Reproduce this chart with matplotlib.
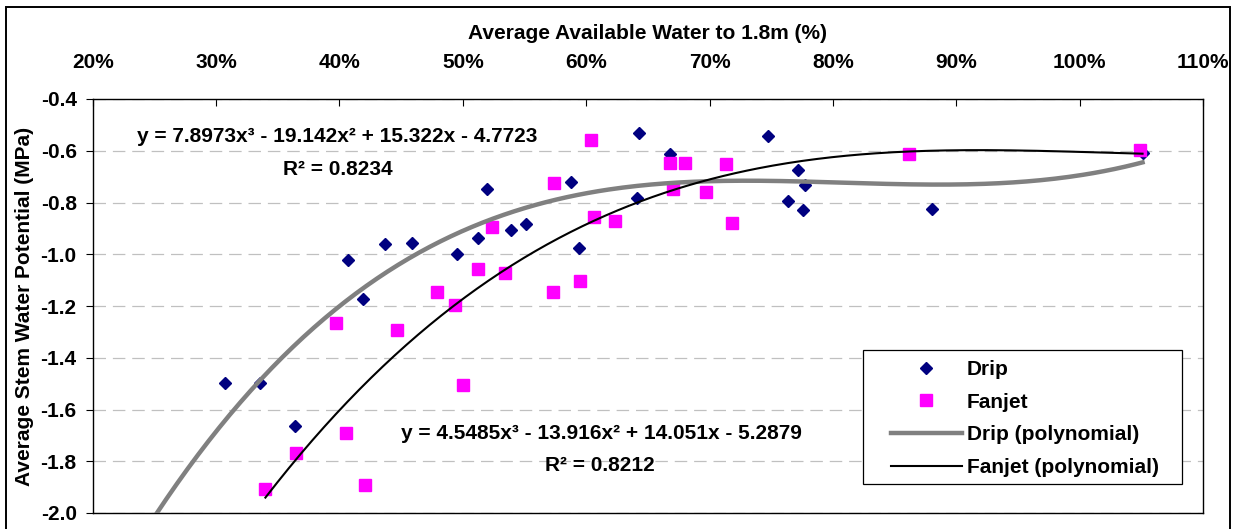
import numpy as np
import matplotlib.pyplot as plt
from matplotlib.ticker import PercentFormatter, MultipleLocator
from matplotlib.patches import Rectangle

plt.rcParams['font.family'] = ['Liberation Sans', 'DejaVu Sans']
plt.rcParams['font.weight'] = 'bold'

# average available water to 1.8m (fraction) and stem water potential (MPa)
drip_x = [0.3075, 0.336, 0.364, 0.407, 0.419, 0.437, 0.459, 0.495, 0.512,
          0.520, 0.539, 0.551, 0.588, 0.594, 0.641, 0.643, 0.668, 0.747,
          0.764, 0.7715, 0.776, 0.777, 0.880, 1.051]
drip_y = [-1.497, -1.497, -1.665, -1.022, -1.172, -0.962, -0.958, -1.000, -0.938,
          -0.749, -0.906, -0.884, -0.722, -0.977, -0.781, -0.533, -0.612, -0.543,
          -0.794, -0.673, -0.828, -0.733, -0.824, -0.610]

fanjet_x = [0.340, 0.365, 0.397, 0.405, 0.4205, 0.4465, 0.479, 0.494, 0.5005,
            0.512, 0.524, 0.5345, 0.573, 0.574, 0.595, 0.604, 0.606, 0.6235,
            0.668, 0.670, 0.680, 0.697, 0.7135, 0.718, 0.862, 1.049]
fanjet_y = [-1.906, -1.768, -1.265, -1.689, -1.892, -1.293, -1.146, -1.197, -1.506,
            -1.058, -0.893, -1.074, -1.146, -0.726, -1.103, -0.558, -0.857, -0.870,
            -0.646, -0.749, -0.646, -0.758, -0.651, -0.880, -0.612, -0.597]

# trendline coefficients (cubic, highest power first)
drip_coef = [7.8973, -19.142, 15.322, -4.7723]
fanjet_coef = [4.5485, -13.916, 14.051, -5.2879]
drip_eq = 'y = 7.8973x³ - 19.142x² + 15.322x - 4.7723'
drip_r2 = 'R² = 0.8234'
fanjet_eq = 'y = 4.5485x³ - 13.916x² + 14.051x - 5.2879'
fanjet_r2 = 'R² = 0.8212'

FS = 15
W, H = 1239, 529
fig = plt.figure(figsize=(W / 100, H / 100), dpi=100)
ax = fig.add_axes([92.7 / W, 1 - 513 / H, 1110.3 / W, 414 / H])

# trendlines
xd = np.linspace(0.20, 1.051, 300)
xf = np.linspace(min(fanjet_x), 1.051, 300)
ax.plot(xd, np.polyval(drip_coef, xd), color='#808080', lw=3.2,
        label='Drip (polynomial)', zorder=3)
ax.plot(xf, np.polyval(fanjet_coef, xf), color='black', lw=1.5,
        label='Fanjet (polynomial)', zorder=3)

ax.plot(drip_x, drip_y, ls='none', marker='D', ms=6.2, color='#000080',
        label='Drip', zorder=2)
ax.plot(fanjet_x, fanjet_y, ls='none', marker='s', ms=8, color='#FF00FF',
        mec='#FF00FF', label='Fanjet', zorder=2)

ax.set_xlim(0.2, 1.1)
ax.set_ylim(-2.0, -0.4)
ax.xaxis.set_major_locator(MultipleLocator(0.1))
ax.xaxis.set_major_formatter(PercentFormatter(1.0, decimals=0))
ax.yaxis.set_major_locator(MultipleLocator(0.2))
ax.yaxis.set_major_formatter(lambda v, p: f'{v:.1f}')
ax.xaxis.tick_top()
ax.xaxis.set_label_position('top')
ax.tick_params(axis='x', direction='in', length=5, pad=19.5, labelsize=FS)
ax.tick_params(axis='y', direction='out', length=5, pad=6.5, labelsize=FS)
ax.grid(axis='y', ls=(0, (10, 5.5)), color='#c0c0c0', lw=0.9)
for s in ax.spines.values():
    s.set_linewidth(1.0)
    s.set_color('black')

ax.set_xlabel('Average Available Water to 1.8m (%)', fontsize=FS,
              fontweight='bold', labelpad=10)
ax.set_ylabel('Average Stem Water Potential (MPa)', fontsize=FS,
              fontweight='bold', labelpad=4.5)

ax.text(0.398, -0.546, drip_eq, fontsize=FS, ha='center', va='center')
ax.text(0.399, -0.674, drip_r2, fontsize=FS, ha='center', va='center')
ax.text(0.612, -1.691, fanjet_eq, fontsize=FS, ha='center', va='center')
ax.text(0.611, -1.815, fanjet_r2, fontsize=FS, ha='center', va='center')

# legend box drawn separately so its size matches the original frame
ax.add_patch(Rectangle((0.6935, 0.070), 0.2875, 0.3237, transform=ax.transAxes,
                       facecolor='white', edgecolor='black', lw=0.9, zorder=4))
handles, labels = ax.get_legend_handles_labels()
order = [2, 3, 0, 1]
leg = ax.legend([handles[i] for i in order], [labels[i] for i in order],
                loc='upper left', bbox_to_anchor=(0.719, 0.370),
                fontsize=FS, frameon=False, borderpad=0, borderaxespad=0,
                handlelength=3.4, labelspacing=0.66, handletextpad=0.25)
leg.set_zorder(5)

fig.patches.append(Rectangle((6 / W, -10 / H), 1224 / W, 532 / H,
                             transform=fig.transFigure, fill=False,
                             edgecolor='black', lw=1.4))

fig.savefig('out.png', dpi=100)
